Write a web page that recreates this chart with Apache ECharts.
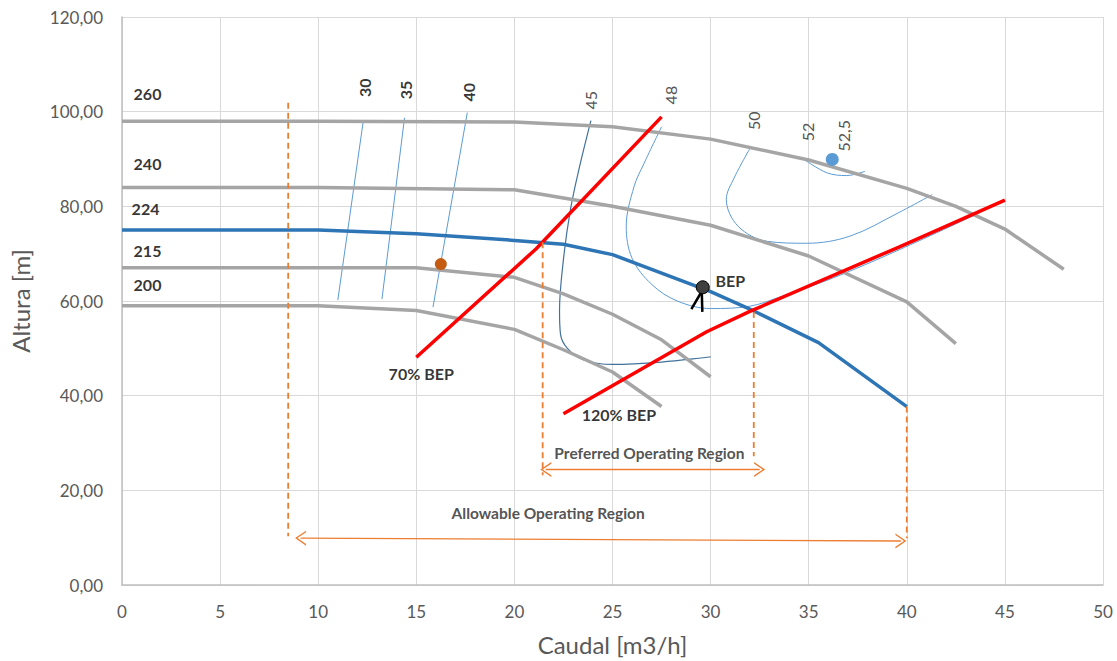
<!DOCTYPE html>
<html><head><meta charset="utf-8">
<script src="https://cdn.jsdelivr.net/npm/echarts@6/dist/echarts.min.js"></script>
<style>html,body{margin:0;padding:0;background:#fff}#c{width:1117px;height:661px}</style>
</head><body><div id="c"></div>
<script>
// ---- Data ----
const xTicks = [0,5,10,15,20,25,30,35,40,45,50];
const yTicks = [0,20,40,60,80,100,120];

// Pump curves (Caudal m3/h, Altura m) per impeller diameter
const curve260 = [[0,98],[10,98],[20,97.8],[25,96.8],[30,94.2],[35,89.8],[40,83.8],[42.5,80],[45,75.2],[48,66.7]];
const curve240 = [[0,84],[10,84],[20,83.5],[25,80],[30,76],[35,69.5],[40,59.8],[42.5,51]];
const curve224 = [[0,75],[10,75],[15,74.2],[20,72.8],[22.5,72],[25,69.8],[30,62],[32,58.3],[35.5,51.2],[40,37.7]];
const curve215 = [[0,67],[10,67],[15,67],[20,65],[22.5,61.5],[25,57.2],[27.5,51.8],[30,44]];
const curve200 = [[0,59],[10,59],[15,58],[20,54],[22.5,49.7],[25,45],[27.5,37.7]];

// 70% / 120% BEP lines
const bep70 = [[15,48.1],[21.1,71.0],[27.5,98.9]];
const bep120 = [[22.5,36.2],[29.8,53.5],[32,57.8],[39.6,71.4],[45,81.3]];

// Efficiency iso-lines
const eff30 = [[12.3,98.1],[11.0,60.2]];
const eff35 = [[14.4,98.7],[13.25,60.4]];
const eff40 = [[17.6,99.8],[15.85,58.7]];
const eff45 = [[23.9,98.1],[23.3,88],[22.86,79.4],[22.5,68.8],[22.3,58],[22.35,53],[22.7,50],[23.5,47.6],[25,46.6],[27.5,47.1],[30,48.2]];
const eff48 = [[27.5,96.8],[26.6,89],[26.1,84.2],[25.7,75.8],[26.0,69],[27.0,63.5],[28.3,60],[30,58.4],[32,58.9],[33.5,60.8],[36.2,64.8],[39.6,70.8],[43.7,78.6]];
const eff50 = [[32,92.2],[31.2,86],[30.8,81.5],[31.4,75.8],[32.9,72.6],[34.9,72.2],[37.1,73.7],[39.6,78.7],[41.3,82.5]];
const eff52 = [[34.73,90.0],[35.92,87.1],[36.94,86.5],[37.87,87.4]];

// Points
const pointOrange = [16.25,67.8];
const point525 = [36.2,89.9];
const pointBEP = [29.6,62.9];
const bepMarkA = [[29.53,61.9],[29.02,58.3]];
const bepMarkB = [[29.55,61.9],[29.58,57.7]];

// Operating region limits
const limitAllowLeft = [[8.47,101.9],[8.47,10.3]];
const limitPrefLeft = [[21.44,72.4],[21.44,23.2]];
const limitPrefRight = [[32.2,57.7],[32.2,27.2]];
const limitAllowRight = [[40,37.7],[40,9.9]];
const arrowPreferred = [[21.6,24.4],[32.5,24.4]];
const arrowAllowable = [[9.1,9.9],[39.7,9.3]];

// Labels
const diamNames = ['260','240','224','215','200'];
const diamAnchors = [[1.3,103.8],[1.3,89.05],[1.2,79.6],[1.3,70.7],[1.3,63.4]];
const effBoldNames = ['30','35','40'];
const effBoldAnchors = [[12.36,105.05],[14.45,104.6],[17.65,104.1]];
const effNames = ['45','48','50','52','52,5'];
const effAnchors = [[23.88,102.4],[27.95,103.5],[32.2,98.1],[34.94,95.7],[36.78,94.9]];
const noteNames = ['70% BEP','120% BEP','BEP'];
const noteAnchors = [[15.25,44.6],[25.33,36.0],[31.0,64.4]];
const regionNames = ['Preferred Operating Region','Allowable Operating Region'];
const regionAnchors = [[26.88,27.8],[21.72,15.16]];

// ---- Chart ----
const FONT = 'Lato, "Open Sans", sans-serif';
const chart = echarts.init(document.getElementById('c'), null, {renderer:'svg'});

function line(data, color, width, extra) {
  return Object.assign({type:'line', data:data, symbol:'none', silent:true,
    lineStyle:{color:color, width:width}}, extra||{});
}
function textSeries(names, anchors, labelOpt) {
  return {type:'scatter', symbolSize:0, silent:true, z:10,
    data: names.map((n,i)=>({name:n, value:anchors[i]})),
    label: Object.assign({show:true, position:'inside', formatter:'{b}',
      fontFamily:FONT, align:'center', verticalAlign:'middle'}, labelOpt)};
}
const chev = 'path://M0,10L5,0L10,10L8.9,10L5,2.2L1.1,10Z';
const orange = '#ED7D31';
const effColor = '#5B9BD5';

const option = {
  animation:false,
  backgroundColor:'#fff',
  grid:{left:120, right:14, top:17, bottom:74, containLabel:false},
  xAxis:{type:'value', min:0, max:50, interval:5,
    name:'Caudal [m3/h]', nameLocation:'middle', nameGap:47,
    nameTextStyle:{fontFamily:FONT, fontSize:24, color:'#595959'},
    axisLine:{show:true, lineStyle:{color:'#BFBFBF', width:1.5}},
    axisTick:{show:false},
    axisLabel:{color:'#595959', fontFamily:FONT, fontSize:17, margin:18},
    splitLine:{show:true, lineStyle:{color:'#D9D9D9', width:1}}},
  yAxis:{type:'value', min:0, max:120, interval:20,
    name:'Altura [m]', nameLocation:'middle', nameGap:90,
    nameTextStyle:{fontFamily:FONT, fontSize:24, color:'#595959'},
    axisLine:{show:true, lineStyle:{color:'#BFBFBF', width:1.5}},
    axisTick:{show:false},
    axisLabel:{color:'#595959', fontFamily:FONT, fontSize:17, margin:19,
      formatter:v=>v.toFixed(2).replace('.',',')},
    splitLine:{show:true, lineStyle:{color:'#D9D9D9', width:1}}},
  series:[
    line(eff30, effColor, 1), line(eff35, effColor, 1), line(eff40, effColor, 1),
    line(eff45, '#41719C', 1.2, {smooth:0.35}),
    line(eff48, effColor, 1, {smooth:0.35}),
    line(eff50, effColor, 1, {smooth:0.35}),
    line(eff52, effColor, 1, {smooth:0.35}),
    line(curve260, '#A5A5A5', 3.5), line(curve240, '#A5A5A5', 3.5),
    line(curve215, '#A5A5A5', 3.5), line(curve200, '#A5A5A5', 3.5),
    line(curve224, '#2E75B6', 3.5),
    line(bep70, '#FF0000', 3.5), line(bep120, '#FF0000', 3.5),
    line(limitAllowLeft, orange, 1.8, {lineStyle:{color:orange,width:1.8,type:[6,4]}}),
    line(limitPrefLeft, orange, 1.8, {lineStyle:{color:orange,width:1.8,type:[6,4]}}),
    line(limitPrefRight, orange, 1.8, {lineStyle:{color:orange,width:1.8,type:[6,4]}}),
    line(limitAllowRight, orange, 1.8, {lineStyle:{color:orange,width:1.8,type:[6,4]}}),
    {type:'line', data:[], silent:true,
      markLine:{silent:true, symbol:[chev,chev], symbolSize:[15,11],
        label:{show:false}, lineStyle:{color:orange, width:1.3, type:'solid'},
        itemStyle:{color:orange},
        data:[
          [{coord:arrowPreferred[0]},{coord:arrowPreferred[1]}],
          [{coord:arrowAllowable[0]},{coord:arrowAllowable[1]}]
        ]}},
    line(bepMarkA, '#000', 2.5, {z:5}), line(bepMarkB, '#000', 2.5, {z:5}),
    {type:'scatter', silent:true, z:6, symbolSize:12, data:[pointOrange],
      itemStyle:{color:'#C55A11', opacity:1}},
    {type:'scatter', silent:true, z:6, symbolSize:13, data:[point525],
      itemStyle:{color:'#5B9BD5', opacity:1}},
    {type:'scatter', silent:true, z:6, symbolSize:13, data:[pointBEP],
      itemStyle:{color:'#404040', borderColor:'#000', borderWidth:1, opacity:1}},
    textSeries(diamNames, diamAnchors, {fontSize:16, fontWeight:'bold', color:'#000'}),
    textSeries(effBoldNames, effBoldAnchors, {fontSize:16, fontWeight:'bold', color:'#000', rotate:90}),
    textSeries(effNames, effAnchors, {fontSize:16, color:'#262626', rotate:90}),
    textSeries(noteNames, noteAnchors, {fontSize:16, fontWeight:'bold', color:'#000'}),
    textSeries(regionNames, regionAnchors, {fontSize:15.5, fontWeight:'bold', color:'#262626'})
  ]
};
chart.setOption(option);
</script>
</body></html>
